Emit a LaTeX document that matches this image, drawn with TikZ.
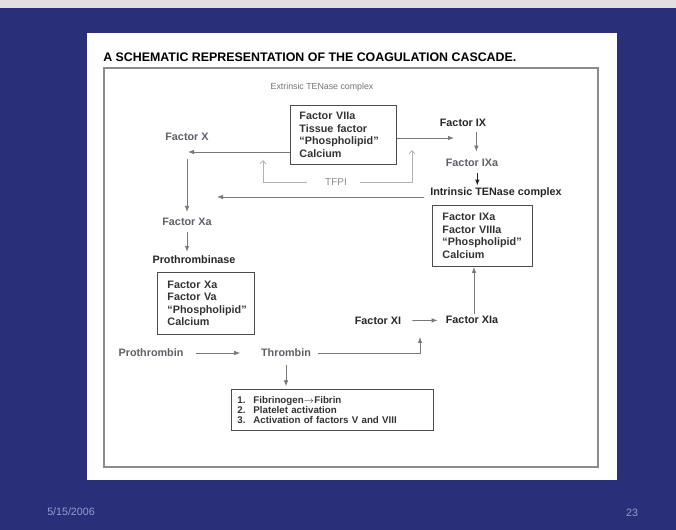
\documentclass[tikz,border=0pt]{standalone}
\usepackage{fontspec}
\setmainfont{Liberation Sans}
\usetikzlibrary{arrows.meta}
\definecolor{slideblue}{RGB}{42,47,122}
\definecolor{footgray}{RGB}{150,158,200}
\definecolor{txtgray}{RGB}{95,95,105}
\definecolor{linegray}{RGB}{120,120,125}

\begin{document}
\begin{tikzpicture}[
    x=0.75pt, y=-0.75pt,
    lbl/.style={font=\fontsize{8.1}{9.4}\selectfont\bfseries, text=txtgray, inner sep=1.5pt},
    darklbl/.style={lbl, text=black!85},
    cplx/.style={
        draw=black!70, line width=0.7pt, anchor=north west,
        align=left, inner ysep=2pt,
        font=\fontsize{8.1}{9.4}\selectfont\bfseries, text=black!80
    },
    arr/.style={-{Latex[length=4.5pt,width=3.4pt]}, line width=0.6pt, color=linegray},
    inhib/.style={-{Straight Barb[length=2.5pt,width=4.5pt]}, line width=0.6pt, color=black!30},
]
\useasboundingbox (0,0) rectangle (676,530);

% slide
\fill[slideblue] (0,0) rectangle (676,530);
\fill[black!12] (0,0) rectangle (676,8);
\fill[white] (87,33) rectangle (617,480);
\draw[black!45, line width=0.8pt] (104,68) rectangle (598,467);

\node[anchor=west, inner sep=0pt, font=\fontsize{9.3}{11}\selectfont\bfseries] (title) at (103,57)
  {A SCHEMATIC REPRESENTATION OF THE COAGULATION CASCADE.};
\node[font=\fontsize{8}{9}\selectfont, text=footgray] (date) at (71,512) {5/15/2006};
\node[font=\fontsize{8}{9}\selectfont, text=footgray] (page) at (632,513) {23};

% extrinsic side
\node[font=\fontsize{6.6}{7.5}\selectfont, text=black!55] (extl) at (322,87) {Extrinsic TENase complex};
\node[cplx, minimum height=44.25pt, text width=66pt, inner xsep=6.75pt] (ext) at (290,105)
  {Factor VIIa\\Tissue factor\\``Phospholipid''\\Calcium};
\node[lbl] (fx) at (187,137) {Factor X};
\node[lbl] (fxa) at (187,222) {Factor Xa};
\node[darklbl] (ptl) at (194,260) {Prothrombinase};
\node[cplx, minimum height=46.5pt, text width=57.75pt, inner xsep=7.5pt] (ptase) at (157,272)
  {Factor Xa\\Factor Va\\``Phospholipid''\\Calcium};

% intrinsic side
\node[darklbl] (fix) at (463,123) {Factor IX};
\node[lbl] (fixa) at (472,163) {Factor IXa};
\node[darklbl] (intl) at (496,193) {Intrinsic TENase complex};
\node[cplx, minimum height=45.75pt, text width=60pt, inner xsep=7.5pt] (intr) at (432,205)
  {Factor IXa\\Factor VIIIa\\``Phospholipid''\\Calcium};
\node[darklbl] (fxi) at (378,321) {Factor XI};
\node[darklbl] (fxia) at (472,320) {Factor XIa};

% common pathway
\node[lbl] (pro) at (151,353) {Prothrombin};
\node[lbl] (thr) at (286,353) {Thrombin};
\node[cplx, font=\fontsize{7.3}{7.5}\selectfont\bfseries, minimum height=30.75pt,
      text width=142.5pt, inner xsep=4.5pt] (eff) at (231,389)
  {\makebox[12pt][l]{1.}Fibrinogen$\rightarrow$Fibrin\\
   \makebox[12pt][l]{2.}Platelet activation\\
   \makebox[12pt][l]{3.}Activation of factors V and VIII};

\node[font=\fontsize{7.5}{8}\selectfont, text=black!45] (tfpi) at (336,182) {TFPI};

\coordinate (xcat) at (188,152);
\coordinate (ixcat) at (454,138);
\coordinate (xicat) at (420,337);
\coordinate (tfx) at (217,197);
\coordinate (tfl) at (263,160);
\coordinate (tfr) at (412,150);

\draw[arr] (ext.west |- xcat) -- (xcat);
\draw[arr] (ext.east |- ixcat) -- (ixcat);
\draw[arr, shorten <=12pt, shorten >=3pt] (fx) -- (fxa);
\draw[arr, shorten <=3pt, shorten >=1.5pt] (fxa) -- (fxa |- ptl.north);
\draw[arr, shorten <=7.5pt, shorten >=14pt] (pro) -- (thr);
\draw[arr, shorten <=4pt] (thr.east) -| (xicat);
\draw[arr, shorten <=6.75pt, shorten >=4.5pt] (fxi) -- (fxia);
\draw[arr] ([xshift=1.5pt]fxia.north) -- ([xshift=1.5pt]fxia.north |- intr.south);
\draw[arr, shorten <=2pt, shorten >=4pt] ([xshift=10pt]fix.south) -- ([xshift=10pt]fix.south |- fixa.north);
\draw[arr, line width=1pt, color=black!85, shorten <=3pt] ([xshift=4pt]fixa.south) -- ([xshift=4pt]fixa.south |- intl.north);
\draw[arr, shorten <=3pt] (intl.west |- tfx) -- (tfx);
\draw[inhib, shorten <=10pt] (tfpi.west) -| (tfl);
\draw[inhib, shorten <=6pt] (tfpi.east) -| (tfr);
\draw[arr, shorten <=4pt, shorten >=2pt] (thr.south) -- (thr.south |- eff.north);

\end{tikzpicture}
\end{document}
